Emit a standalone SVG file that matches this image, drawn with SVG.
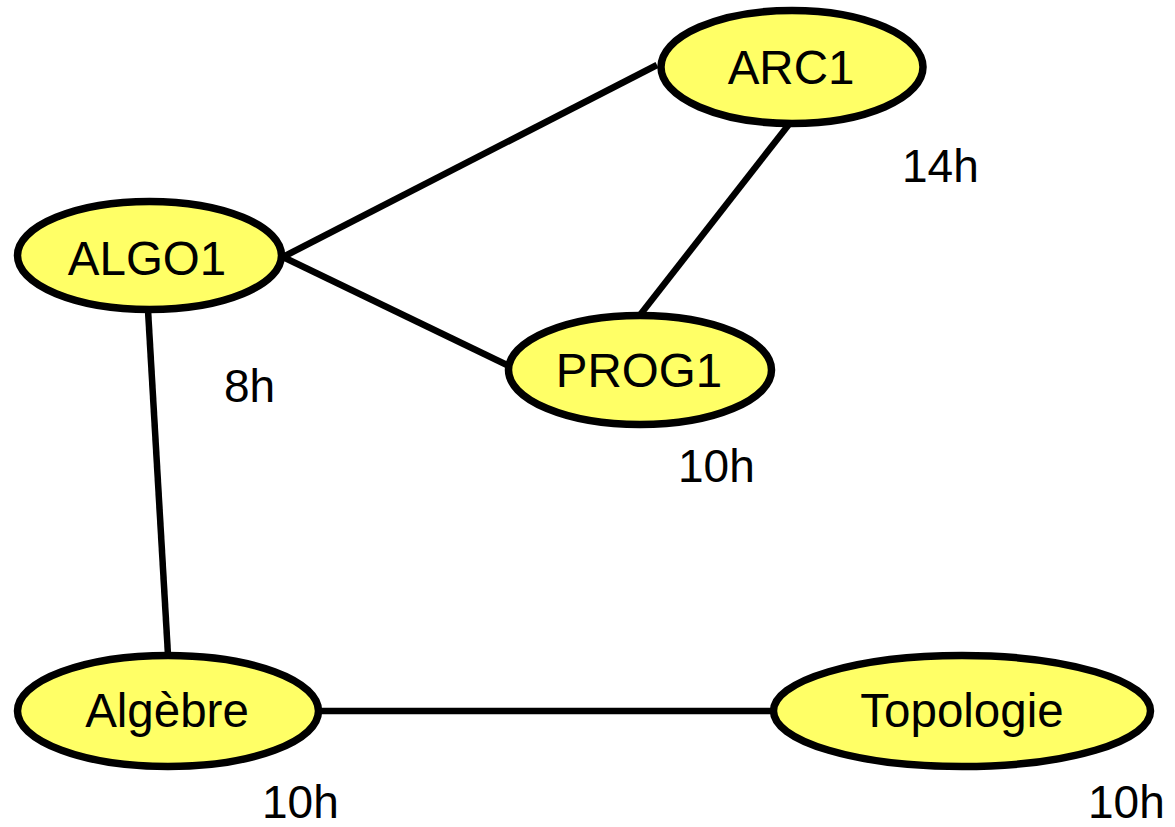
<svg xmlns="http://www.w3.org/2000/svg" width="1175" height="827" viewBox="0 0 1175 827">
  <style>
    .node ellipse { fill: #FFFF66; stroke: #000; stroke-width: 7.5; }
    .node text { font-family: "Liberation Sans", Arial, sans-serif; font-size: 47.5px; text-anchor: middle; fill: #000; }
    .edges line { stroke: #000; stroke-width: 6.5; }
    .hours { font-family: "Liberation Sans", Arial, sans-serif; font-size: 46px; fill: #000; }
  </style>
  <rect width="1175" height="827" fill="#fff"/>
  <!-- connectors, drawn under the nodes -->
  <g id="edges" class="edges">
    <line x1="283" y1="257" x2="657" y2="65"/>
    <line x1="283" y1="257" x2="507" y2="365"/>
    <line x1="790" y1="123" x2="640" y2="315"/>
    <line x1="148" y1="310" x2="168" y2="655"/>
    <line x1="320" y1="711" x2="772" y2="711"/>
  </g>
  <g id="arc1" class="node">
    <ellipse cx="792" cy="67" rx="131" ry="56.5"/>
    <text x="791" y="84">ARC1</text>
  </g>
  <g id="algo1" class="node">
    <ellipse cx="149.5" cy="255.5" rx="132" ry="54"/>
    <text x="147" y="275">ALGO1</text>
  </g>
  <g id="prog1" class="node">
    <ellipse cx="640" cy="370" rx="131.5" ry="54.5"/>
    <text x="639" y="387">PROG1</text>
  </g>
  <g id="algebre" class="node">
    <ellipse cx="168" cy="711" rx="150.5" ry="55.5"/>
    <text x="167" y="727">Algèbre</text>
  </g>
  <g id="topologie" class="node">
    <ellipse cx="962" cy="711" rx="188.5" ry="55.5"/>
    <text x="962" y="727">Topologie</text>
  </g>
  <!-- hour labels -->
  <g id="labels">
    <text class="hours" x="902" y="182">14h</text>
    <text class="hours" x="224" y="402">8h</text>
    <text class="hours" x="678" y="482">10h</text>
    <text class="hours" x="262" y="818">10h</text>
    <text class="hours" x="1088" y="818">10h</text>
  </g>
</svg>
